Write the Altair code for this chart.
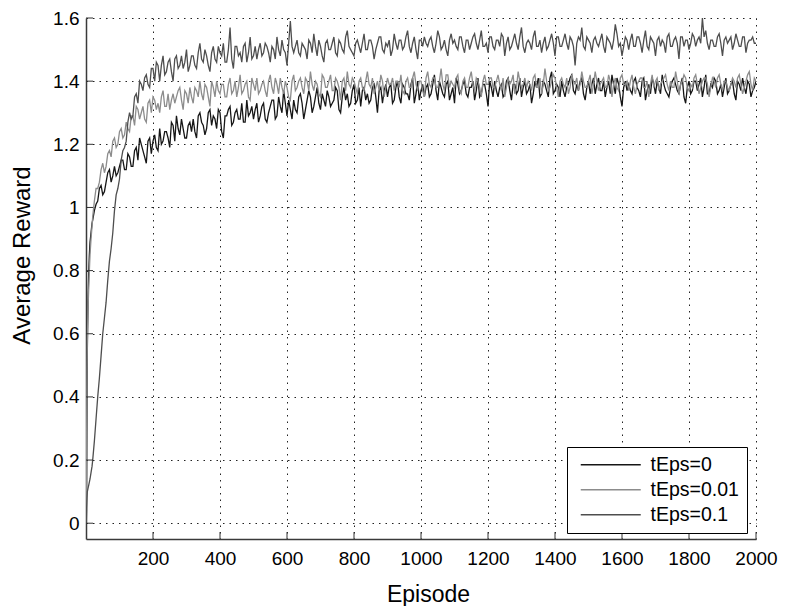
import altair as alt
import pandas as pd

FONT = "Liberation Sans"

series_names = ["tEps=0", "tEps=0.01", "tEps=0.1"]
series_colors = ["#161616", "#8c8c8c", "#4e4e4e"]

episodes_early = [1, 2, 3, 4, 6, 8, 10, 12, 15, 18]
episodes_main = list(range(20, 2001, 10))
episodes_mid = list(range(25, 2000, 10))
episodes = episodes_early + episodes_main

reward_t0 = (
    [0.00, 0.22, 0.42, 0.55, 0.70, 0.79, 0.85, 0.89, 0.92, 0.95]
    + [0.96, 1.01, 1.06, 1.04, 1.08, 1.12, 1.10, 1.10, 1.13, 1.15]
    + [1.12, 1.16, 1.13, 1.19, 1.22, 1.18, 1.14, 1.22, 1.21, 1.19]
    + [1.25, 1.21, 1.24, 1.19, 1.26, 1.29, 1.23, 1.25, 1.22, 1.27]
    + [1.28, 1.22, 1.30, 1.26, 1.25, 1.31, 1.29, 1.25, 1.30, 1.22]
    + [1.29, 1.32, 1.27, 1.31, 1.28, 1.27, 1.34, 1.30, 1.28, 1.33]
    + [1.29, 1.33, 1.27, 1.32, 1.34, 1.29, 1.32, 1.37, 1.29, 1.31]
    + [1.34, 1.30, 1.36, 1.28, 1.34, 1.35, 1.32, 1.38, 1.31, 1.34]
    + [1.37, 1.32, 1.34, 1.37, 1.30, 1.38, 1.36, 1.33, 1.39, 1.34]
    + [1.32, 1.38, 1.36, 1.34, 1.39, 1.30, 1.38, 1.37, 1.35, 1.39]
    + [1.34, 1.40, 1.33, 1.38, 1.36, 1.39, 1.33, 1.40, 1.37, 1.35]
    + [1.39, 1.36, 1.42, 1.34, 1.38, 1.35, 1.40, 1.36, 1.33, 1.39]
    + [1.37, 1.40, 1.35, 1.38, 1.34, 1.41, 1.36, 1.39, 1.32, 1.38]
    + [1.40, 1.35, 1.39, 1.36, 1.41, 1.34, 1.39, 1.37, 1.35, 1.40]
    + [1.37, 1.33, 1.40, 1.41, 1.36, 1.39, 1.35, 1.43, 1.37, 1.38]
    + [1.40, 1.35, 1.39, 1.42, 1.36, 1.37, 1.41, 1.34, 1.40, 1.39]
    + [1.36, 1.41, 1.37, 1.35, 1.40, 1.42, 1.36, 1.39, 1.32, 1.40]
    + [1.39, 1.36, 1.41, 1.37, 1.40, 1.34, 1.39, 1.41, 1.36, 1.38]
    + [1.42, 1.37, 1.35, 1.40, 1.39, 1.36, 1.41, 1.33, 1.40, 1.37]
    + [1.40, 1.39, 1.35, 1.42, 1.36, 1.38, 1.40, 1.37, 1.35, 1.41]
    + [1.37, 1.40, 1.34, 1.39, 1.41, 1.36, 1.39, 1.37, 1.40]
)
reward_t0_mid = (
    [0.99, 1.02, 1.07, 1.05, 1.11, 1.08, 1.13, 1.11, 1.15, 1.12]
    + [1.17, 1.13, 1.18, 1.15, 1.20, 1.16, 1.21, 1.17, 1.23, 1.18]
    + [1.20, 1.24, 1.22, 1.27, 1.21, 1.25, 1.28, 1.22, 1.26, 1.24]
    + [1.24, 1.29, 1.27, 1.23, 1.30, 1.26, 1.28, 1.31, 1.24, 1.29]
    + [1.31, 1.26, 1.30, 1.28, 1.33, 1.27, 1.29, 1.32, 1.31, 1.27]
    + [1.32, 1.28, 1.30, 1.34, 1.28, 1.35, 1.30, 1.33, 1.34, 1.28]
    + [1.31, 1.35, 1.33, 1.31, 1.37, 1.30, 1.35, 1.33, 1.36, 1.32]
    + [1.35, 1.33, 1.38, 1.31, 1.35, 1.34, 1.32, 1.37, 1.33, 1.38]
    + [1.37, 1.34, 1.33, 1.38, 1.35, 1.37, 1.33, 1.39, 1.38, 1.33]
    + [1.38, 1.35, 1.39, 1.36, 1.34, 1.41, 1.36, 1.34, 1.39, 1.38]
    + [1.35, 1.39, 1.37, 1.40, 1.36, 1.39, 1.34, 1.38, 1.41, 1.36]
    + [1.39, 1.36, 1.38, 1.40, 1.37, 1.35, 1.39, 1.36, 1.40, 1.35]
    + [1.37, 1.38, 1.35, 1.40, 1.37, 1.39, 1.36, 1.41, 1.38, 1.36]
    + [1.39, 1.36, 1.38, 1.35, 1.40, 1.37, 1.41, 1.36, 1.39, 1.35]
    + [1.37, 1.38, 1.41, 1.37, 1.39, 1.40, 1.36, 1.38, 1.36, 1.41]
    + [1.39, 1.37, 1.40, 1.38, 1.36, 1.39, 1.41, 1.35, 1.38, 1.37]
    + [1.37, 1.40, 1.38, 1.35, 1.41, 1.37, 1.36, 1.39, 1.40, 1.36]
    + [1.39, 1.36, 1.38, 1.41, 1.37, 1.39, 1.35, 1.38, 1.36, 1.40]
    + [1.37, 1.41, 1.38, 1.36, 1.39, 1.41, 1.36, 1.39, 1.38, 1.36]
    + [1.39, 1.36, 1.40, 1.37, 1.38, 1.40, 1.35, 1.38]
)

reward_t001 = (
    [0.00, 0.30, 0.48, 0.58, 0.68, 0.74, 0.80, 0.85, 0.90, 0.94]
    + [0.97, 1.06, 1.08, 1.14, 1.13, 1.18, 1.21, 1.19, 1.24, 1.22]
    + [1.27, 1.24, 1.29, 1.32, 1.28, 1.32, 1.27, 1.34, 1.35, 1.31]
    + [1.30, 1.37, 1.32, 1.31, 1.36, 1.35, 1.38, 1.31, 1.36, 1.38]
    + [1.33, 1.37, 1.40, 1.34, 1.38, 1.32, 1.38, 1.40, 1.36, 1.39]
    + [1.35, 1.41, 1.37, 1.35, 1.42, 1.37, 1.40, 1.34, 1.39, 1.41]
    + [1.37, 1.40, 1.35, 1.42, 1.36, 1.39, 1.41, 1.36, 1.38, 1.34]
    + [1.42, 1.38, 1.41, 1.36, 1.40, 1.43, 1.37, 1.39, 1.35, 1.41]
    + [1.38, 1.42, 1.37, 1.40, 1.34, 1.41, 1.43, 1.38, 1.40, 1.36]
    + [1.41, 1.37, 1.43, 1.38, 1.36, 1.40, 1.42, 1.35, 1.41, 1.39]
    + [1.37, 1.40, 1.42, 1.36, 1.41, 1.38, 1.43, 1.37, 1.40, 1.35]
    + [1.43, 1.38, 1.41, 1.38, 1.44, 1.37, 1.42, 1.40, 1.38, 1.42]
    + [1.36, 1.41, 1.38, 1.43, 1.37, 1.40, 1.35, 1.42, 1.39, 1.41]
    + [1.38, 1.42, 1.37, 1.35, 1.41, 1.40, 1.36, 1.43, 1.38, 1.41]
    + [1.40, 1.37, 1.42, 1.38, 1.36, 1.44, 1.37, 1.40, 1.41, 1.35]
    + [1.41, 1.38, 1.36, 1.42, 1.39, 1.37, 1.43, 1.38, 1.40, 1.36]
    + [1.43, 1.37, 1.40, 1.38, 1.42, 1.35, 1.41, 1.37, 1.42, 1.39]
    + [1.37, 1.42, 1.36, 1.40, 1.41, 1.38, 1.35, 1.42, 1.40, 1.37]
    + [1.40, 1.42, 1.37, 1.38, 1.43, 1.36, 1.40, 1.41, 1.37, 1.38]
    + [1.42, 1.36, 1.40, 1.41, 1.35, 1.41, 1.38, 1.42, 1.37, 1.40]
    + [1.37, 1.41, 1.38, 1.42, 1.36, 1.40, 1.43, 1.37, 1.40]
)
reward_t001_mid = (
    [1.02, 1.06, 1.12, 1.11, 1.17, 1.16, 1.22, 1.20, 1.25, 1.23]
    + [1.25, 1.29, 1.26, 1.31, 1.30, 1.28, 1.33, 1.30, 1.34, 1.33]
    + [1.35, 1.32, 1.36, 1.34, 1.33, 1.37, 1.34, 1.37, 1.33, 1.35]
    + [1.38, 1.35, 1.36, 1.39, 1.35, 1.40, 1.35, 1.37, 1.39, 1.35]
    + [1.39, 1.36, 1.40, 1.38, 1.36, 1.39, 1.35, 1.41, 1.37, 1.36]
    + [1.39, 1.37, 1.40, 1.38, 1.41, 1.36, 1.38, 1.40, 1.35, 1.40]
    + [1.37, 1.40, 1.38, 1.41, 1.37, 1.39, 1.40, 1.36, 1.42, 1.38]
    + [1.40, 1.37, 1.41, 1.38, 1.40, 1.37, 1.39, 1.41, 1.38, 1.40]
    + [1.38, 1.40, 1.39, 1.41, 1.38, 1.37, 1.40, 1.38, 1.39, 1.41]
    + [1.40, 1.38, 1.37, 1.40, 1.38, 1.41, 1.39, 1.40, 1.37, 1.41]
    + [1.39, 1.41, 1.38, 1.40, 1.39, 1.42, 1.38, 1.39, 1.41, 1.37]
    + [1.40, 1.38, 1.41, 1.39, 1.41, 1.38, 1.40, 1.39, 1.41, 1.38]
    + [1.40, 1.39, 1.41, 1.38, 1.39, 1.42, 1.38, 1.40, 1.39, 1.38]
    + [1.39, 1.41, 1.38, 1.41, 1.39, 1.40, 1.38, 1.42, 1.38, 1.40]
    + [1.39, 1.41, 1.38, 1.40, 1.41, 1.39, 1.40, 1.38, 1.42, 1.39]
    + [1.40, 1.39, 1.41, 1.38, 1.40, 1.39, 1.38, 1.41, 1.39, 1.40]
    + [1.40, 1.38, 1.39, 1.41, 1.38, 1.40, 1.39, 1.38, 1.41, 1.39]
    + [1.41, 1.39, 1.40, 1.38, 1.40, 1.39, 1.42, 1.38, 1.39, 1.41]
    + [1.39, 1.38, 1.41, 1.39, 1.38, 1.40, 1.41, 1.39, 1.40, 1.38]
    + [1.39, 1.40, 1.41, 1.39, 1.38, 1.42, 1.39, 1.41]
)

reward_t01 = (
    [0.00, 0.05, 0.08, 0.10, 0.11, 0.12, 0.13, 0.14, 0.16, 0.18]
    + [0.20, 0.33, 0.46, 0.60, 0.70, 0.83, 0.92, 1.04, 1.09, 1.18]
    + [1.21, 1.30, 1.29, 1.36, 1.40, 1.37, 1.42, 1.38, 1.44, 1.46]
    + [1.40, 1.48, 1.43, 1.47, 1.40, 1.48, 1.45, 1.44, 1.50, 1.45]
    + [1.48, 1.44, 1.52, 1.46, 1.48, 1.43, 1.51, 1.46, 1.49, 1.52]
    + [1.46, 1.57, 1.44, 1.51, 1.49, 1.51, 1.46, 1.54, 1.48, 1.47]
    + [1.52, 1.49, 1.51, 1.46, 1.50, 1.54, 1.48, 1.50, 1.45, 1.59]
    + [1.49, 1.53, 1.48, 1.51, 1.47, 1.52, 1.55, 1.48, 1.51, 1.46]
    + [1.53, 1.50, 1.54, 1.48, 1.52, 1.49, 1.56, 1.50, 1.48, 1.53]
    + [1.49, 1.55, 1.50, 1.53, 1.47, 1.52, 1.54, 1.49, 1.51, 1.48]
    + [1.55, 1.50, 1.53, 1.51, 1.56, 1.49, 1.54, 1.47, 1.53, 1.54]
    + [1.51, 1.54, 1.49, 1.56, 1.50, 1.53, 1.48, 1.55, 1.53, 1.50]
    + [1.54, 1.49, 1.53, 1.52, 1.55, 1.50, 1.56, 1.51, 1.49, 1.54]
    + [1.50, 1.53, 1.55, 1.48, 1.54, 1.51, 1.55, 1.50, 1.57, 1.49]
    + [1.53, 1.50, 1.56, 1.51, 1.49, 1.54, 1.51, 1.55, 1.48, 1.54]
    + [1.51, 1.55, 1.50, 1.53, 1.45, 1.54, 1.57, 1.50, 1.53, 1.49]
    + [1.54, 1.51, 1.55, 1.49, 1.53, 1.50, 1.58, 1.51, 1.48, 1.54]
    + [1.50, 1.55, 1.51, 1.54, 1.49, 1.56, 1.50, 1.53, 1.48, 1.54]
    + [1.53, 1.49, 1.55, 1.51, 1.54, 1.47, 1.54, 1.53, 1.50, 1.55]
    + [1.51, 1.54, 1.60, 1.56, 1.50, 1.53, 1.51, 1.55, 1.48, 1.54]
    + [1.53, 1.50, 1.55, 1.51, 1.54, 1.49, 1.53, 1.54, 1.52]
)
reward_t01_mid = (
    [0.26, 0.40, 0.53, 0.65, 0.77, 0.87, 0.99, 1.06, 1.15, 1.19]
    + [1.27, 1.28, 1.35, 1.33, 1.39, 1.41, 1.39, 1.44, 1.40, 1.45]
    + [1.45, 1.42, 1.46, 1.43, 1.47, 1.44, 1.48, 1.46, 1.43, 1.48]
    + [1.45, 1.49, 1.47, 1.50, 1.45, 1.49, 1.47, 1.51, 1.48, 1.46]
    + [1.50, 1.47, 1.51, 1.48, 1.46, 1.52, 1.49, 1.47, 1.51, 1.50]
    + [1.48, 1.52, 1.49, 1.51, 1.47, 1.50, 1.53, 1.49, 1.52, 1.51]
    + [1.51, 1.49, 1.52, 1.50, 1.53, 1.49, 1.51, 1.53, 1.48, 1.52]
    + [1.50, 1.52, 1.49, 1.53, 1.50, 1.54, 1.51, 1.49, 1.52, 1.51]
    + [1.52, 1.50, 1.53, 1.51, 1.50, 1.54, 1.50, 1.52, 1.53, 1.50]
    + [1.52, 1.53, 1.50, 1.54, 1.51, 1.52, 1.50, 1.53, 1.51, 1.52]
    + [1.53, 1.51, 1.52, 1.54, 1.51, 1.50, 1.53, 1.52, 1.51, 1.54]
    + [1.51, 1.53, 1.50, 1.54, 1.52, 1.53, 1.51, 1.52, 1.54, 1.51]
    + [1.53, 1.51, 1.54, 1.52, 1.50, 1.53, 1.52, 1.54, 1.51, 1.52]
    + [1.52, 1.54, 1.51, 1.53, 1.52, 1.50, 1.53, 1.52, 1.54, 1.51]
    + [1.53, 1.52, 1.54, 1.51, 1.52, 1.53, 1.51, 1.54, 1.52, 1.53]
    + [1.52, 1.53, 1.51, 1.54, 1.52, 1.53, 1.55, 1.52, 1.51, 1.53]
    + [1.53, 1.51, 1.54, 1.52, 1.53, 1.51, 1.54, 1.52, 1.53, 1.51]
    + [1.52, 1.54, 1.51, 1.53, 1.52, 1.54, 1.51, 1.53, 1.52, 1.54]
    + [1.53, 1.52, 1.54, 1.52, 1.53, 1.51, 1.54, 1.52, 1.53, 1.52]
    + [1.54, 1.52, 1.53, 1.51, 1.54, 1.52, 1.53, 1.52]
)

x_ticks = [200, 400, 600, 800, 1000, 1200, 1400, 1600, 1800, 2000]
y_ticks = [0, 0.2, 0.4, 0.6, 0.8, 1.0, 1.2, 1.4, 1.6]

rows = []
for name, vals, mids in zip(series_names,
                            [reward_t0, reward_t001, reward_t01],
                            [reward_t0_mid, reward_t001_mid, reward_t01_mid]):
    for e, v in zip(episodes, vals):
        rows.append({"Episode": e, "Reward": v, "series": name})
    for e, v in zip(episodes_mid, mids):
        rows.append({"Episode": e, "Reward": v, "series": name})
df = pd.DataFrame(rows).sort_values(["series", "Episode"])

W, H = 670, 521

xscale = alt.Scale(domain=[0, 2000], nice=False, zero=False)
yscale = alt.Scale(domain=[-0.05, 1.6], nice=False, zero=False)

grid_style = dict(grid=True, gridDash=[1.5, 5], gridColor="#222222", gridWidth=1,
                  ticks=False, labelFont=FONT, labelFontSize=19, labelColor="#000000",
                  labelFlush=False, labelOverlap=False,
                  domainColor="#3a3a3a", domainWidth=1.5,
                  titleFont=FONT, titleFontWeight="normal", titleColor="#000000")

x_axis = alt.Axis(values=x_ticks, format="d", title="Episode", labelPadding=10,
                  titleFontSize=23, titleX=342, titleY=62, titleAlign="center",
                  titleBaseline="alphabetic", **grid_style)
y_axis = alt.Axis(values=y_ticks, format=".1~f", title="Average Reward", labelPadding=7,
                  titleFontSize=24, titleX=-64, titleY=237, titleAngle=270,
                  titleAlign="center", titleBaseline="middle", **grid_style)

legend = alt.Legend(orient="none", legendX=481, legendY=429, title=None, padding=8,
                    strokeColor="#000000", fillColor="#ffffff",
                    symbolType="M-4,0H4", symbolSize=225, symbolStrokeWidth=1.5,
                    symbolOffset=26, labelOffset=30, rowPadding=4,
                    labelFont=FONT, labelFontSize=19.5, labelColor="#000000")

lines = alt.Chart(df).mark_line(strokeWidth=1.3, clip=True).encode(
    x=alt.X("Episode:Q", scale=xscale, axis=x_axis),
    y=alt.Y("Reward:Q", scale=yscale, axis=y_axis),
    color=alt.Color("series:N", scale=alt.Scale(domain=series_names, range=series_colors),
                    legend=legend),
)

xt = alt.Chart(pd.DataFrame({"t": x_ticks})).mark_rule(color="#333333", strokeWidth=1).encode(
    x=alt.X("t:Q", scale=xscale, axis=x_axis),
    y=alt.value(H), y2=alt.value(H - 7),
)
yt = alt.Chart(pd.DataFrame({"v": y_ticks})).mark_rule(color="#333333", strokeWidth=1).encode(
    y=alt.Y("v:Q", scale=yscale, axis=y_axis),
    x=alt.value(0), x2=alt.value(7),
)

chart = alt.layer(lines, xt, yt).properties(
    width=W, height=H,
    autosize=alt.AutoSizeParams(type="none"),
    padding={"left": 78, "top": 10, "right": 22, "bottom": 67},
    background="#ffffff",
).configure_view(strokeWidth=0)

chart.save("out.html", embed_options={"renderer": "svg", "actions": False})
